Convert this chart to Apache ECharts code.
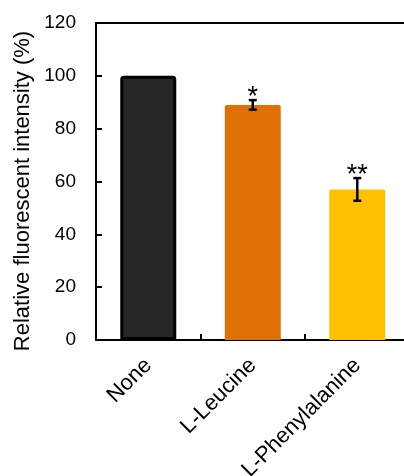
<!DOCTYPE html>
<html><head><meta charset="utf-8">
<script src="https://cdn.jsdelivr.net/npm/echarts@6/dist/echarts.min.js"></script>
<style>html,body{margin:0;padding:0;background:#fff;overflow:hidden}#c{width:404px;height:476px}</style>
</head><body><div id="c"></div>
<script>
const categories = ['None', 'L-Leucine', 'L-Phenylalanine'];
const values = [100, 89, 57];
const errors = [0, 1.8, 4.3];
const significance = ['', '*', '**'];
const yTicks = [0, 20, 40, 60, 80, 100, 120];
const barColors = ['#262626', '#E07006', '#FFC000'];
const yTitle = 'Relative fluorescent intensity (%)';

const font = 'Liberation Sans, Arial, sans-serif';
const catLabel = function (v) {
  const k = Math.round(v);
  return Math.abs(v - k) < 1e-6 && categories[k] !== undefined ? categories[k] : '';
};
const chart = echarts.init(document.getElementById('c'), null, {renderer: 'canvas'});
chart.setOption({
  animation: false,
  graphic: [{
    type: 'text', x: 23, y: 191, rotation: Math.PI / 2,
    style: {text: yTitle, align: 'center', verticalAlign: 'middle', fontSize: 22, fontFamily: font, fill: '#000'}
  }],
  grid: {left: 96, top: 23, width: 308, height: 317, outerBoundsMode: 'none', containLabel: false, show: false},
  xAxis: [{
    type: 'value', min: -0.5, max: 2.447, interval: 0.5,
    axisLine: {show: true, onZero: false, lineStyle: {color: '#000', width: 2}},
    axisTick: {show: true, inside: true, length: 6, lineStyle: {color: '#000', width: 2}},
    axisLabel: {rotate: 45, color: '#000', fontSize: 22, fontFamily: font, margin: 22, formatter: catLabel, showMaxLabel: false},
    splitLine: {show: false}
  }, {
    type: 'value', min: -0.5, max: 2.447, position: 'top',
    axisLine: {show: true, onZero: false, lineStyle: {color: '#000', width: 2}},
    axisTick: {show: false}, axisLabel: {show: false}, splitLine: {show: false}
  }],
  yAxis: {
    type: 'value', min: yTicks[0], max: yTicks[yTicks.length - 1], interval: 20,
    axisLine: {show: true, onZero: false, lineStyle: {color: '#000', width: 2}},
    axisTick: {show: true, inside: true, length: 6, lineStyle: {color: '#000', width: 2}},
    axisLabel: {color: '#000', fontSize: 19, fontFamily: font, margin: 20},
    splitLine: {show: false}
  },
  series: [
    {
      type: 'bar', barWidth: 56, z: 5,
      data: values.map((v, i) => ({
        value: [i, v],
        itemStyle: {
          color: barColors[i],
          borderRadius: [2, 2, 0, 0],
          borderColor: i === 0 ? '#000' : barColors[i],
          borderWidth: i === 0 ? 3 : 0
        }
      }))
    },
    {
      type: 'custom',
      data: values.map((v, i) => [i, v, errors[i]]),
      z: 10,
      renderItem: function (params, api) {
        const i = api.value(0), m = api.value(1), e = api.value(2);
        const sig = significance[i];
        const children = [];
        const top = api.coord([i, m + e]);
        const bot = api.coord([i, m - e]);
        if (e > 0) {
          const w = 4;
          const st = {stroke: '#000', lineWidth: 2.5};
          children.push({type: 'line', shape: {x1: top[0], y1: top[1], x2: bot[0], y2: bot[1]}, style: st});
          children.push({type: 'line', shape: {x1: top[0] - w, y1: top[1], x2: top[0] + w, y2: top[1]}, style: st});
          children.push({type: 'line', shape: {x1: bot[0] - w, y1: bot[1], x2: bot[0] + w, y2: bot[1]}, style: st});
        }
        if (sig) {
          children.push({type: 'text', style: {text: sig, x: top[0], y: top[1] + 11, align: 'center', verticalAlign: 'bottom', fontSize: 27, fontFamily: font, fill: '#000'}});
        }
        return {type: 'group', children: children};
      }
    }
  ]
});
</script></body></html>
